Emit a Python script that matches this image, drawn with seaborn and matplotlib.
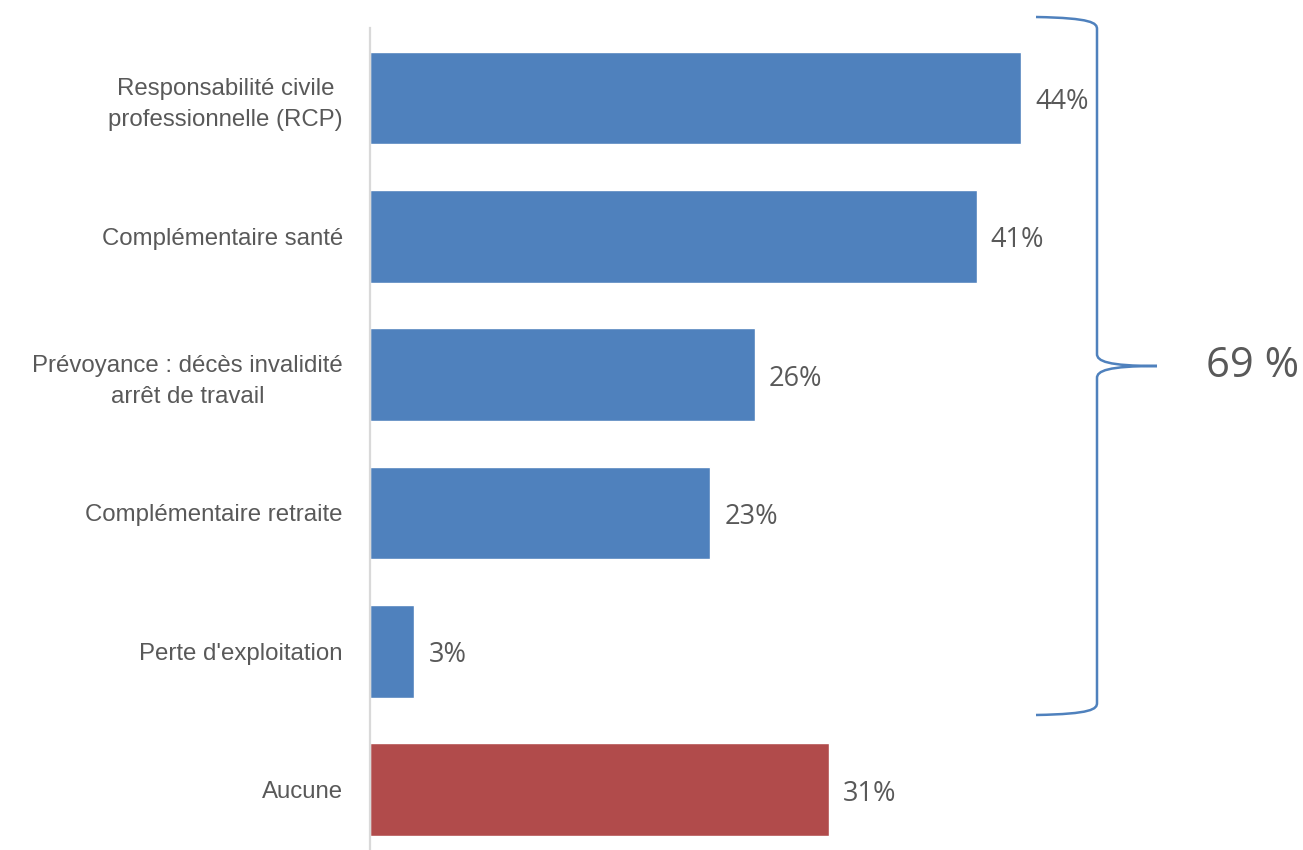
import matplotlib
matplotlib.use("Agg")
import matplotlib.pyplot as plt
from matplotlib.path import Path
from matplotlib.patches import PathPatch
import seaborn as sns
import pandas as pd

categories = [
    "Responsabilité civile\nprofessionnelle (RCP)",
    "Complémentaire santé",
    "Prévoyance : décès invalidité\narrêt de travail",
    "Complémentaire retraite",
    "Perte d'exploitation",
    "Aucune",
]
values = [44, 41, 26, 23, 3, 31]
value_labels = ["44%", "41%", "26%", "23%", "3%", "31%"]
group_total_label = "69 %"

BLUE = "#4F81BD"
RED = "#B14B4B"
TEXT = "#595959"

sns.set_theme(style="white")
plt.rcParams["font.family"] = ["Liberation Sans", "DejaVu Sans"]

df = pd.DataFrame({"cat": categories, "val": values})
palette = {c: (RED if c == "Aucune" else BLUE) for c in categories}

fig = plt.figure(figsize=(13.03, 8.5), dpi=100)
W, H = 1303, 850
ax = fig.add_axes([370 / W, 0, 888 / W, 822 / H])

sns.barplot(data=df, y="cat", x="val", hue="cat", palette=palette,
            orient="h", width=0.67, saturation=1, legend=False, ax=ax)

ax.set_xlim(0, 60)
ax.set_ylim(5.437, -0.506)
ax.set_xlabel("")
ax.set_ylabel("")
ax.set_xticks([])
for s in ["top", "right", "bottom"]:
    ax.spines[s].set_visible(False)
ax.spines["left"].set_color("#D9D9D9")
ax.spines["left"].set_linewidth(1.6)
ax.tick_params(axis="y", length=0, pad=19.5, labelsize=17.3, labelcolor=TEXT)
for t in ax.get_yticklabels():
    t.set_linespacing(1.5)
    t.set_multialignment("center")

for i, (v, lab) in enumerate(zip(values, value_labels)):
    ax.text(v + 0.95, i + 0.03, lab, va="center", ha="left", fontsize=19.5,
            color=TEXT, family=["Open Sans", "DejaVu Sans"])

# curly brace grouping the insured categories (drawn in pixel coordinates)
def px(x, y):
    return (x / W, 1 - y / H)

xl, xv, xt = 1036, 1097, 1157
yt, ym, yb = 17, 366, 715
verts = [
    px(xl, yt), px(xv - 5, yt + 1), px(xv, yt + 6), px(xv, yt + 12),
    px(xv, ym - 12),
    px(xv, ym - 5), px(xv + 10, ym), px(xt, ym),
    px(xv + 10, ym), px(xv, ym + 5), px(xv, ym + 12),
    px(xv, yb - 12),
    px(xv, yb - 6), px(xv - 5, yb - 1), px(xl, yb),
]
codes = [Path.MOVETO, Path.CURVE4, Path.CURVE4, Path.CURVE4,
         Path.LINETO,
         Path.CURVE4, Path.CURVE4, Path.CURVE4,
         Path.CURVE4, Path.CURVE4, Path.CURVE4,
         Path.LINETO,
         Path.CURVE4, Path.CURVE4, Path.CURVE4]
fig.add_artist(PathPatch(Path(verts, codes), transform=fig.transFigure,
                         fill=False, edgecolor=BLUE, linewidth=1.8))

fig.text(1206 / W, 1 - 366 / H, group_total_label, ha="left", va="center",
         fontsize=30, color=TEXT, family=["Open Sans", "DejaVu Sans"])

fig.savefig("out.png", dpi=100)
